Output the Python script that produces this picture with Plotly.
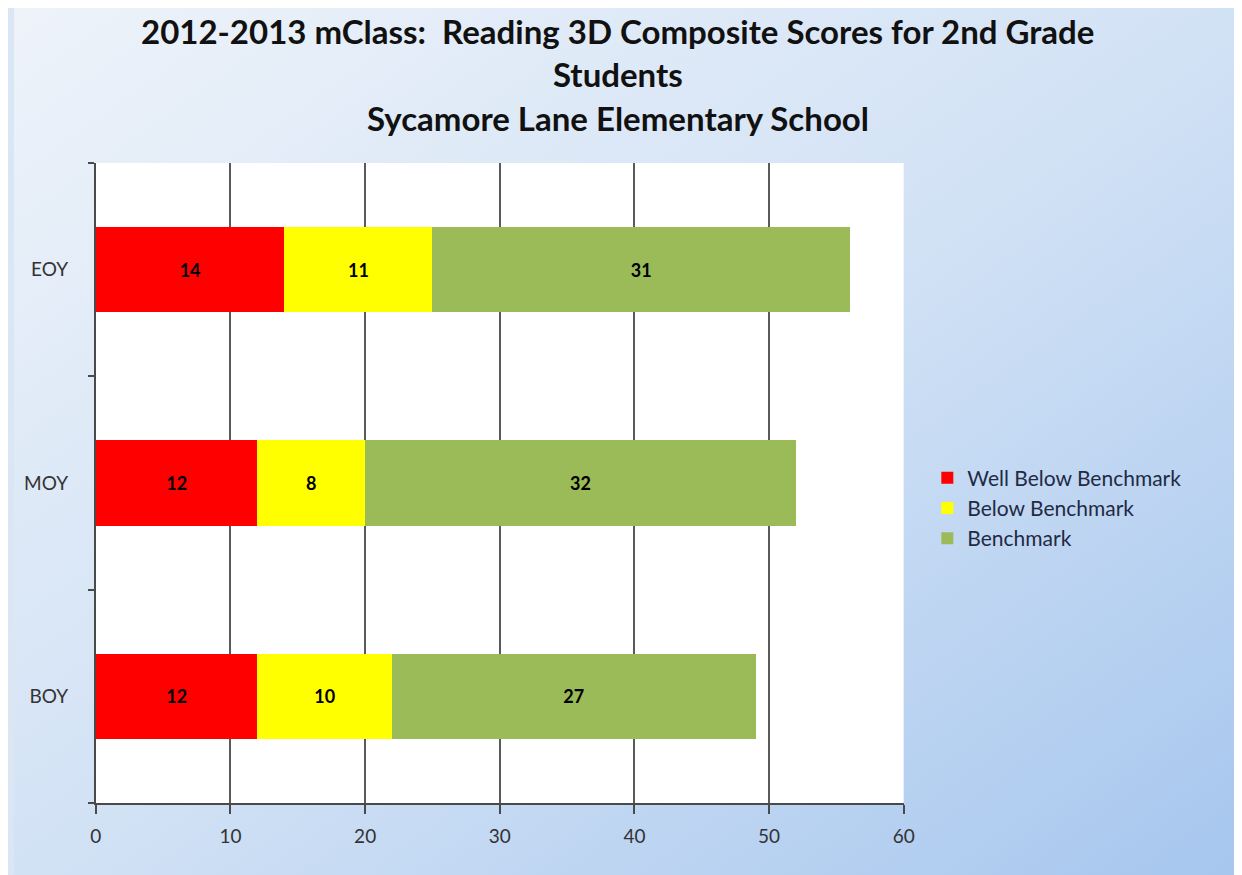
import base64
import plotly.graph_objects as go

categories = ["BOY", "MOY", "EOY"]
well_below = [12, 12, 14]
below = [10, 8, 11]
benchmark = [27, 32, 31]
series_names = ["Well Below Benchmark", "Below Benchmark", "Benchmark"]
series_colors = ["#ff0000", "#ffff00", "#9bbb59"]
x_ticks = [0, 10, 20, 30, 40, 50, 60]
title_lines = [
    "2012-2013 mClass:  Reading 3D Composite Scores for 2nd Grade",
    "Students",
    "Sycamore Lane Elementary School",
]

W, H = 1242, 875
FONT = "Lato"

svg = (
    '<svg xmlns="http://www.w3.org/2000/svg" width="1242" height="875" preserveAspectRatio="none">'
    '<defs><linearGradient id="g" x1="0" y1="0" x2="1" y2="1">'
    '<stop offset="0" stop-color="#eef3fa"/>'
    '<stop offset="0.5" stop-color="#d2e2f5"/>'
    '<stop offset="1" stop-color="#a6c6ee"/>'
    '</linearGradient></defs>'
    '<rect width="1242" height="875" fill="url(#g)"/></svg>'
)
bg_uri = "data:image/svg+xml;base64," + base64.b64encode(svg.encode()).decode()

fig = go.Figure()
for name, vals, col in zip(series_names, [well_below, below, benchmark], series_colors):
    fig.add_trace(go.Bar(
        y=categories, x=vals, name=name, orientation="h",
        marker=dict(color=col, line=dict(width=0)),
        texttemplate="<b>%{x}</b>", textposition="inside",
        insidetextanchor="middle",
        textfont=dict(family=FONT, size=18, color="black"),
        hoverinfo="skip",
    ))

x0, x1 = 83 / W, 902 / W
y0, y1 = (H - 795) / H, (H - 155) / H

fig.update_layout(
    width=W, height=H,
    margin=dict(l=0, r=0, t=0, b=0),
    barmode="stack", bargap=0.6,
    paper_bgcolor="#dbe6f4", plot_bgcolor="white",
    font=dict(family=FONT, color="#222222"),
    xaxis=dict(
        domain=[x0, x1], range=[0, 60], tickvals=x_ticks,
        showgrid=True, gridcolor="#5a5a5a", gridwidth=1.5,
        showline=True, linecolor="#4a4a4a", linewidth=2,
        ticks="outside", ticklen=9, tickwidth=1.5, tickcolor="#4a4a4a",
        tickfont=dict(family=FONT, size=19, color="#333333"),
        ticklabelstandoff=6,
        zeroline=False, fixedrange=True,
    ),
    yaxis=dict(
        domain=[y0, y1], categoryorder="array", categoryarray=categories,
        showline=True, linecolor="#4a4a4a", linewidth=2,
        ticks="outside", tickson="boundaries", ticklen=6, tickwidth=1.5,
        tickcolor="#4a4a4a", ticklabelstandoff=22,
        tickfont=dict(family=FONT, size=19, color="#333333"),
        showgrid=False, fixedrange=True,
    ),
    legend=dict(
        x=926 / W, xanchor="left", y=(H - 500) / H, yanchor="middle",
        font=dict(family=FONT, size=21, color="#1f2a44"),
        bgcolor="rgba(0,0,0,0)", itemwidth=30, tracegroupgap=0,
        traceorder="normal",
    ),
    images=[dict(
        source=bg_uri, xref="paper", yref="paper", x=0, y=1,
        sizex=1, sizey=1, xanchor="left", yanchor="top",
        sizing="stretch", layer="below",
    )],
    shapes=[dict(
        type="rect", xref="x domain", yref="y domain", x0=0, x1=1, y0=0, y1=1,
        fillcolor="white", line=dict(width=0), layer="below",
    )],
)

for i, (line, ypx) in enumerate(zip(title_lines, [23, 66, 110])):
    fig.add_annotation(
        text="<b>" + line + "</b>", x=612 / W, y=(H - ypx) / H,
        xref="paper", yref="paper", xanchor="center", yanchor="middle",
        showarrow=False, font=dict(family=FONT, size=33, color="#111111"),
    )

fig.write_html("out.html")
